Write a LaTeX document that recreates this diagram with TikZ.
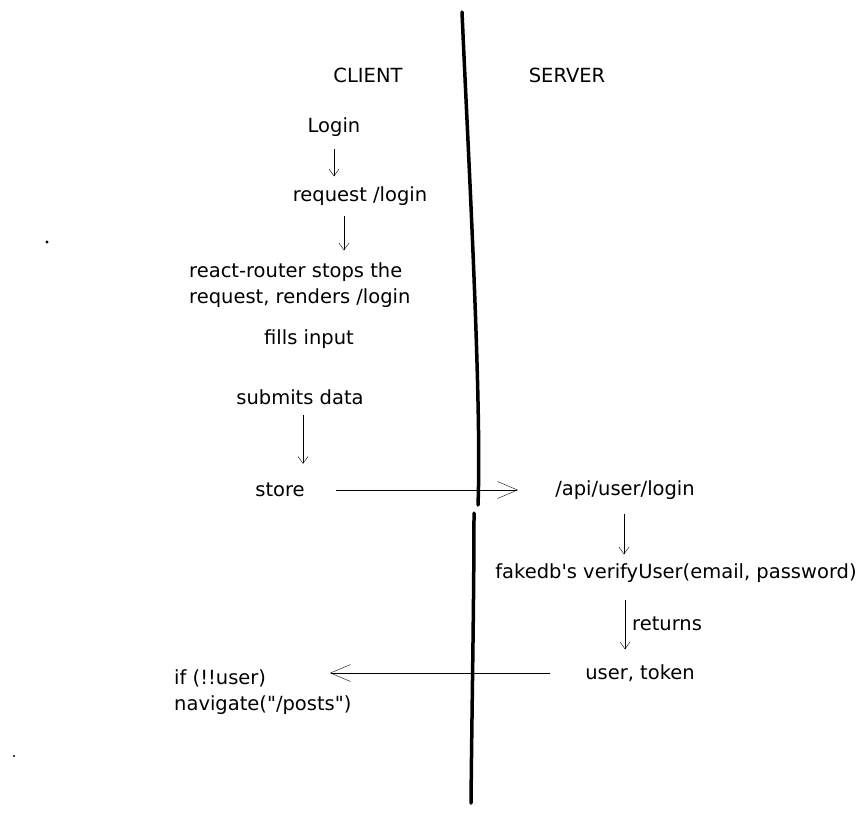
\documentclass[tikz,border=0pt]{standalone}
\usepackage{fontspec}
\setmainfont{DejaVu Sans}
\usetikzlibrary{arrows.meta}
\tikzset{
  >={Straight Barb[length=7pt,width=10pt]},
  lbl/.style={font=\fontsize{19.5}{26}\selectfont, inner sep=1pt},
  bigtip/.style={-{Straight Barb[length=20pt,width=17pt]}},
}
\begin{document}
\begin{tikzpicture}[x=1pt,y=-1pt]
    \useasboundingbox (0,0) rectangle (865,812);
    %% divider
    \draw[line width=3.5pt,line cap=round] (462,12) .. controls (468,150) and (482,400) .. (478,505);
    \draw[line width=3.5pt,line cap=round] (474,513) .. controls (474,600) and (472,700) .. (471,803);
    %% stray dots
    \fill (47,242) circle (1.6pt);
    \fill (14,756) circle (1.2pt);
    %% client
    \node[lbl] (client) at (368,75) {CLIENT};
    \node[lbl] (login) at (334,127) {Login};
    \node[lbl] (req) at (360,196) {request /login};
    \node[lbl,anchor=west,align=left] (router) at (188,285) {react-router stops the\\request, renders /login};
    \node[lbl] (fills) at (309,339) {fills input};
    \node[lbl] (submits) at (300,397) {submits data};
    \node[lbl] (store) at (280,490) {store};
    \node[lbl,anchor=west,align=left] (nav) at (173,692) {if (!!user)\\navigate(\textquotedbl/posts\textquotedbl)};
    \coordinate (navtip) at (330,673);
    \draw[->,shorten <=11pt,shorten >=9pt] (login.south) -- (login.south |- req.north);
    \draw[->,shorten <=9pt,shorten >=11pt] ([xshift=-16pt]req.south) -- ([xshift=-16pt]req.south |- router.north);
    \draw[->,shorten <=9pt,shorten >=18pt] ([xshift=3pt]submits.south) -- ([xshift=3pt]submits.south |- store.north);
    %% server
    \node[lbl] (server) at (567,75) {SERVER};
    \node[lbl] (api) at (625,490) {/api/user/login};
    \node[lbl] (verify) at (676,573) {fakedb\textquotesingle s verifyUser(email, password)};
    \node[lbl] (usertoken) at (640,673) {user, token};
    \draw[->,shorten <=13pt,shorten >=8pt] ([xshift=-1pt]api.south) -- ([xshift=-1pt]api.south |- verify.north);
    \draw[->,shorten <=16pt,shorten >=14pt] (verify.south -| api.south) -- node[lbl,right=6pt] (returns) {returns} (api.south |- usertoken.north);
    %% requests across
    \draw[bigtip,shorten <=30pt,shorten >=36pt] (store.east) -- (store.east -| api.west);
    \draw[bigtip] ([xshift=-34pt]usertoken.west) -- (navtip);
\end{tikzpicture}
\end{document}
